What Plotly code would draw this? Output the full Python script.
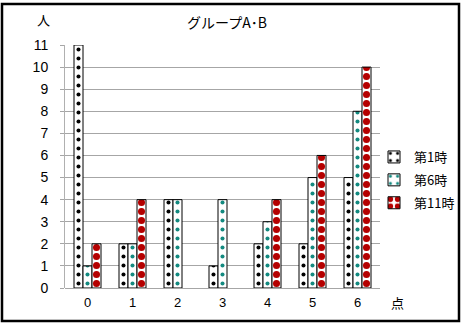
import plotly.graph_objects as go

categories = [0, 1, 2, 3, 4, 5, 6]
category_labels = ["0", "1", "2", "3", "4", "5", "6"]
series_names = ["第1時", "第6時", "第11時"]
s1 = [11, 2, 4, 1, 2, 2, 5]
s6 = [1, 2, 4, 4, 3, 5, 8]
s11 = [2, 4, 0, 0, 4, 6, 10]
y_ticks = list(range(0, 12))

W, H = 461, 323
L, T, B = 65, 45, 35
PW = 315                      # 7 categories x 45px  (tile 9px -> 5 tiles per category)
R = W - L - PW
ph = H - T - B
TILE = PW / 35

def px(x):
    return (x - L) / PW

def py(y):
    return (H - B - y) / ph

JP = "Noto Sans CJK JP"
NUM = "Liberation Sans"

styles = [
    dict(fg="#000000", sol=0.16),
    dict(fg="#138a80", sol=0.16),
    dict(fg="#b50000", sol=0.48),
]

fig = go.Figure()
for i, (name, vals) in enumerate(zip(series_names, [s1, s6, s11])):
    st = styles[i]
    fig.add_trace(go.Bar(
        x=categories, y=vals, name=name,
        legendgroup=f"g{i}",
        marker=dict(
            color="white",
            line=dict(color="#000000", width=[0 if v == 0 else 1 for v in vals]),
            pattern=dict(shape=".", fgcolor=st["fg"], bgcolor="white",
                         size=TILE, solidity=st["sol"], fillmode="replace"),
        ),
    ))

fig.update_layout(
    width=W, height=H,
    margin=dict(l=L, r=R, t=T, b=B, autoexpand=False),
    paper_bgcolor="white", plot_bgcolor="white",
    barmode="group", bargap=0.4, bargroupgap=0,
    showlegend=True,
    legend=dict(x=px(374), y=py(142), xanchor="left", yanchor="top",
                font=dict(family=JP, size=13, color="#000"),
                traceorder="grouped", tracegroupgap=3,
                bgcolor="rgba(0,0,0,0)", itemwidth=30),
    xaxis=dict(range=[-0.5, 6.5], tickvals=categories, ticktext=category_labels,
               showgrid=False, showline=False, ticks="", zeroline=False,
               ticklabelstandoff=5,
               tickfont=dict(family=NUM, size=13, color="#000")),
    yaxis=dict(range=[0, 11], tickvals=y_ticks, showgrid=True,
               gridcolor="#a6a6a6", gridwidth=1,
               showline=True, linecolor="#b0b0b0", linewidth=1,
               ticks="outside", ticklen=4, tickcolor="#a6a6a6",
               zeroline=True, zerolinecolor="#a6a6a6", zerolinewidth=1,
               ticklabelstandoff=9,
               tickfont=dict(family=NUM, size=14, color="#000")),
    annotations=[
        dict(text="グループA･B", x=px(227), y=py(22), xref="paper", yref="paper",
             showarrow=False, font=dict(family=JP, size=14, color="#000"),
             xanchor="center", yanchor="middle"),
        dict(text="人", x=px(43), y=py(20), xref="paper", yref="paper",
             showarrow=False, font=dict(family=JP, size=13, color="#000"),
             xanchor="center", yanchor="middle"),
        dict(text="点", x=px(397), y=py(302), xref="paper", yref="paper",
             showarrow=False, font=dict(family=JP, size=13, color="#000"),
             xanchor="center", yanchor="middle"),
    ],
    shapes=[
        dict(type="rect", xref="paper", yref="paper",
             x0=px(2), x1=px(459), y0=py(321), y1=py(4),
             line=dict(color="#000", width=2.5), fillcolor="rgba(0,0,0,0)", layer="above"),
    ],
)

fig.write_html("out.html", config={"displayModeBar": False},
               post_script="document.body.style.margin='0';document.body.style.overflow='hidden';")
